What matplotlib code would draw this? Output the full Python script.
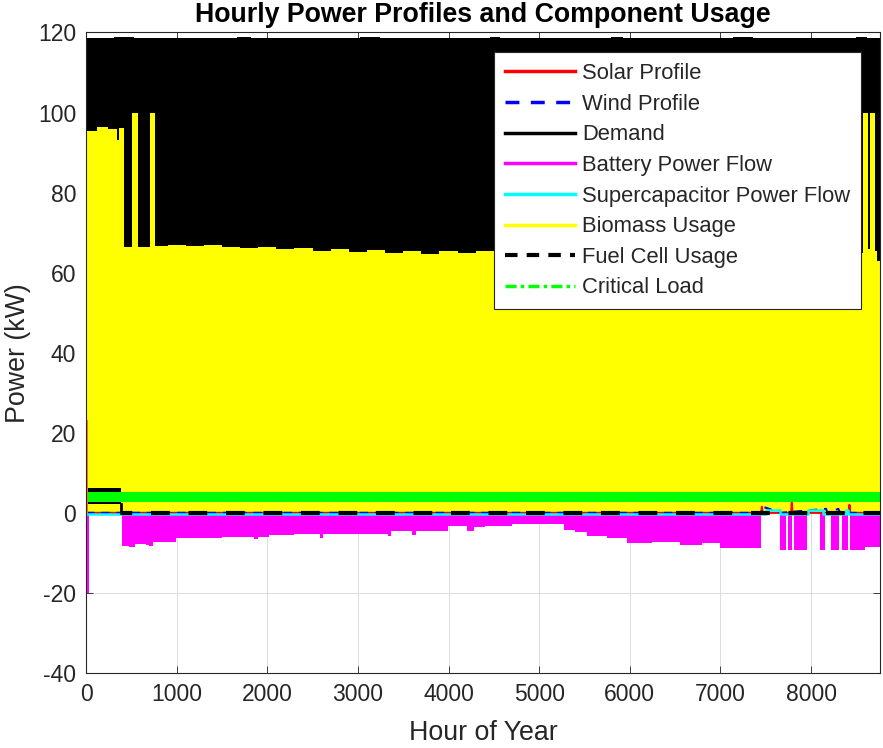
import numpy as np
import matplotlib
matplotlib.use("Agg")
import matplotlib.pyplot as plt

plt.rcParams['font.family'] = ['Liberation Sans', 'DejaVu Sans']
plt.rcParams['axes.unicode_minus'] = False

# ---------------- data (envelopes, hour breakpoints) ----------------
# Demand (black) - upper envelope of the hourly curve
demand_hours = [0, 15, 310, 530, 1670, 1820, 3020, 3240, 4460, 4570, 5790, 5930, 7140, 7360, 8500, 8620, 8760]
demand_upper = [114.0, 118.5, 118.9, 118.5, 118.9, 118.5, 118.9, 118.5, 118.9, 118.5, 118.9, 118.5, 118.9, 118.5, 118.9, 118.5, 118.5]
demand_lower = [5.5] * len(demand_hours)

# Biomass usage (yellow) - upper envelope
bio_hours = [0, 10, 120, 240, 340, 365, 420, 507, 573, 705, 760, 900, 1100, 1300, 1500, 1700, 1900,
             2100, 2300, 2500, 2700, 2900, 3100, 3300, 3500, 3700, 3900, 4100, 4300, 4500, 4700,
             5200, 5700, 6200, 6700, 7200, 7700, 8200, 8573, 8628, 8650, 8705, 8730, 8760]
bio_upper = [95.5, 95.5, 96.3, 96.0, 93.2, 96.2, 66.4, 100.0, 66.3, 100.0, 66.7, 66.9, 66.6, 66.8, 66.4, 66.2, 66.5,
             65.9, 66.1, 65.5, 65.8, 65.2, 65.6, 64.9, 65.3, 64.6, 65.4, 64.8, 65.5, 64.9, 65.2,
             65.0, 65.3, 65.0, 65.2, 65.0, 65.1, 65.0, 100.0, 65.8, 100.0, 65.5, 63.0, 63.0]
bio_lower = [0.2] * len(bio_hours)

# Battery power flow (magenta) - lower envelope (discharge negative)
bat_hours = [0, 30, 395, 470, 540, 660, 700, 740, 990, 1300, 1500, 1850, 1900, 2020, 2300, 2580, 2620,
             2900, 3330, 3370, 3600, 3640, 3990, 4200, 4280, 4400, 4700, 5000, 5270, 5400, 5530, 5750,
             5970, 6250, 6550, 6800, 7000, 7450, 7658, 7725, 7747, 7791, 7813, 7956, 8099, 8154, 8220,
             8308, 8341, 8408, 8430, 8600, 8760]
bat_lower = [-20.0, 0.0, -8.4, -8.6, -7.8, -8.0, -8.4, -7.2, -6.4, -6.2, -6.0, -6.6, -6.1, -5.6, -5.4, -6.2, -5.4,
             -5.2, -5.9, -4.6, -5.6, -4.5, -3.4, -4.5, -3.6, -3.2, -2.9, -2.7, -4.3, -4.8, -5.8, -6.3,
             -7.5, -7.2, -8.0, -7.6, -8.8, 0.0, -9.2, 0.0, -9.2, 0.0, -9.2, 0.0, -9.2, 0.0, -9.2,
             0.0, -9.2, 0.0, -9.2, -8.6, -8.6]

# Supercapacitor power flow (cyan)
sc_hours = [0, 7500, 7660, 7970, 8136, 8390, 8410, 8760]
sc_vals = [-0.4, 0.6, -0.4, 0.6, -0.4, 0.8, -0.4, -0.4]

# Solar profile (red) and wind profile (blue)
solar_hours = [0, 3, 6, 7450, 7457, 7464, 7780, 7787, 7794, 8416, 8423, 8430, 8760]
solar_vals = [0.0, 23.0, 0.0, 0.0, 1.5, 0.0, 0.0, 2.5, 0.0, 0.0, 2.0, 0.0, 0.0]
wind_hours = [0, 7450, 7457, 7550, 7585, 7660, 8165, 8180, 8300, 8320, 8760]
wind_vals = [0.0, 0.0, 1.6, 0.9, 0.5, 0.0, 1.0, 0.0, 1.0, 0.0, 0.0]

# Fuel cell usage (black dashed) - band for the first hours, then zero
fc_hours = [0, 390]
fc_upper = [6.2, 6.2]
fc_lower = [2.3, 2.3]
fc_zero_hours = [390, 8760]
fc_zero_vals = [0.0, 0.0]

# Critical load (green dash-dot) band
crit_hours = [0, 8760]
crit_upper = [5.1, 5.1]
crit_lower = [2.6, 2.6]

xticks = [0, 1000, 2000, 3000, 4000, 5000, 6000, 7000, 8000]
yticks = [-40, -20, 0, 20, 40, 60, 80, 100, 120]

# ---------------- figure ----------------
fig = plt.figure(figsize=(8.83, 7.48), dpi=100)
ax = fig.add_axes([0.0974, 0.1003, 0.8992, 0.8563])

tick_c = '#262626'
ax.set_axisbelow(True)
ax.grid(True, color='#dcdcdc', linewidth=0.7)

lw = 2.5
ax.plot(solar_hours, solar_vals, color='#ff0000', lw=1.5)
l_solar_leg, = ax.plot([], [], color='#ff0000', lw=lw, label='Solar Profile')
ax.plot(wind_hours, wind_vals, color='#0000ff', lw=1.5, ls=(0, (4, 3.3)))
l_wind_leg, = ax.plot([], [], color='#0000ff', lw=lw, ls=(0, (4, 3.3)), label='Wind Profile')
ax.fill_between(demand_hours, demand_lower, demand_upper, step='post', color='black', lw=0)
l_dem, = ax.plot([], [], color='black', lw=lw, label='Demand')
ax.fill_between(bat_hours, bat_lower, 0, step='post', color='#ff00ff', lw=0)
l_bat, = ax.plot([], [], color='#ff00ff', lw=lw, label='Battery Power Flow')
ax.step(sc_hours, sc_vals, where='post', color='#00ffff', lw=1.8)
l_sc, = ax.plot([], [], color='#00ffff', lw=lw, label='Supercapacitor Power Flow')
ax.fill_between(bio_hours, bio_lower, bio_upper, step='post', color='#ffff00', lw=0)
l_bio, = ax.plot([], [], color='#ffff00', lw=lw, label='Biomass Usage')
# solar start-up spike shows through at the left edge
ax.plot(solar_hours[:3], solar_vals[:3], color='#ff7a00', lw=1.8, zorder=2.5)
ax.fill_between(fc_hours, fc_lower, fc_upper, step='post', color='black', lw=0)
ax.plot([fc_zero_hours[0], fc_zero_hours[0]], [fc_lower[-1], fc_zero_vals[0]], color='black', lw=2)
ax.plot(fc_zero_hours, fc_zero_vals, color='black', lw=3, ls=(1.8, (4.5, 4.5)))
l_fc, = ax.plot([], [], color='black', lw=3, ls=(0, (3.0, 2.2)), label='Fuel Cell Usage')
ax.fill_between(crit_hours, crit_lower, crit_upper, step='post', color='#00ff00', lw=0)
l_cr, = ax.plot([], [], color='#00ff00', lw=lw, ls=(0, (3.2, 1.2, 1.0, 1.2)), label='Critical Load')

ax.set_xlim(0, 8760)
ax.set_ylim(-40, 120)
ax.set_xticks(xticks)
ax.set_yticks(yticks)
ax.tick_params(direction='in', length=5, width=0.6, colors=tick_c, labelsize=16.5,
               top=True, right=True, pad=7)
for s in ax.spines.values():
    s.set_color(tick_c)
    s.set_linewidth(0.8)

ax.set_title('Hourly Power Profiles and Component Usage', fontsize=19.3, fontweight='bold',
             color='black', pad=7.5)
ax.set_xlabel('Hour of Year', fontsize=19.3, color=tick_c, labelpad=10)
ax.set_ylabel('Power (kW)', fontsize=19.3, color=tick_c, labelpad=5)

leg = ax.legend(handles=[l_solar_leg, l_wind_leg, l_dem, l_bat, l_sc, l_bio, l_fc, l_cr],
                loc='upper right', bbox_to_anchor=(0.976, 0.9696), fontsize=15.8,
                frameon=True, fancybox=False, framealpha=1, edgecolor='#262626',
                handlelength=3.2, handletextpad=0.32, labelspacing=0.44, borderpad=0.5,
                borderaxespad=0)
leg.get_frame().set_linewidth(0.8)
for t in leg.get_texts():
    t.set_color(tick_c)

fig.savefig('out.png', dpi=100)
